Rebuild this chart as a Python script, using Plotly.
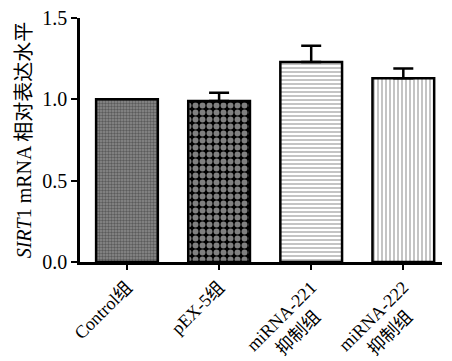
import plotly.graph_objects as go

categories = ["Control组", "pEX-5组",
              "miRNA-221<br>抑制组&nbsp;&nbsp;&nbsp;&nbsp;",
              "miRNA-222<br>抑制组&nbsp;&nbsp;&nbsp;&nbsp;"]
values = [1.00, 0.99, 1.23, 1.13]
errors = [0.0, 0.05, 0.10, 0.06]
y_ticks = [0.0, 0.5, 1.0, 1.5]
y_ticklabels = ["0.0", "0.5", "1.0", "1.5"]

patterns = [
    dict(shape=".", fgcolor="#2a2a2a", bgcolor="#8c8c8c", size=3, solidity=0.5),
    dict(shape=".", fgcolor="#ffffff", bgcolor="#000000", size=7, solidity=0.55),
    dict(shape="-", fgcolor="#8a8a8a", bgcolor="#ffffff", size=4, solidity=0.5),
    dict(shape="|", fgcolor="#8a8a8a", bgcolor="#ffffff", size=4, solidity=0.5),
]

fig = go.Figure()
for i, (c, v, e) in enumerate(zip(categories, values, errors)):
    fig.add_trace(go.Bar(
        x=[c], y=[v],
        width=0.67,
        marker=dict(color="white", pattern=patterns[i],
                    line=dict(color="black", width=2.5)),
        error_y=dict(type="data", array=[e], arrayminus=[0], symmetric=False,
                     color="black", thickness=2.5, width=10, visible=e > 0),
        showlegend=False,
    ))

serif = "Liberation Serif, Times New Roman, Noto Sans CJK SC"
fig.update_layout(
    width=444, height=353,
    margin=dict(l=72, r=10, t=10, b=99),
    plot_bgcolor="white", paper_bgcolor="white",
    font=dict(family=serif, color="black"),
)
fig.update_xaxes(
    type="category", range=[-0.51, 3.42], automargin=False,
    showline=True, linecolor="black", linewidth=2.5,
    ticks="outside", ticklen=5, tickwidth=2, tickcolor="black",
    tickangle=-45, tickfont=dict(size=18, family=serif),
    ticklabeloverflow="allow", showgrid=False,
)
fig.update_yaxes(
    range=[0, 1.5], tickvals=y_ticks, ticktext=y_ticklabels, automargin=False,
    showline=True, linecolor="black", linewidth=2.5,
    ticks="outside", ticklen=6, tickwidth=2, tickcolor="black",
    tickfont=dict(size=20, family=serif), ticklabeloverflow="allow",
    showgrid=False, zeroline=False,
    title=dict(text="<i>SIRT</i>1 mRNA 相对表达水平", font=dict(size=20, family=serif), standoff=6),
)
fig.write_html("out.html")
